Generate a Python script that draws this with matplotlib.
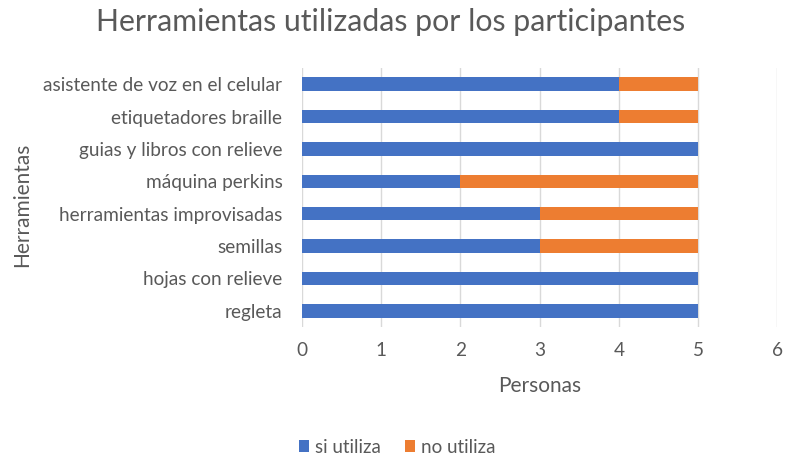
import matplotlib
matplotlib.use("Agg")
import matplotlib.pyplot as plt
import numpy as np

plt.rcParams['font.family'] = ['Lato', 'DejaVu Sans']

categories = ["regleta", "hojas con relieve", "semillas", "herramientas improvisadas",
              "máquina perkins", "guias y libros con relieve", "etiquetadores braille",
              "asistente de voz en el celular"]
si_utiliza = [5, 5, 3, 3, 2, 5, 4, 4]
no_utiliza = [0, 0, 2, 2, 3, 0, 1, 1]
x_ticks = [0, 1, 2, 3, 4, 5, 6]

blue = "#4472C4"
orange = "#ED7D31"
text_col = "#595959"

fig = plt.figure(figsize=(7.86, 4.61), dpi=100)
ax = fig.add_axes([0.384, 0.2907, 0.605, 0.5618])

y = np.arange(len(categories))
ax.barh(y, si_utiliza, height=0.42, color=blue, label="si utiliza", zorder=3)
ax.barh(y, no_utiliza, left=si_utiliza, height=0.42, color=orange, label="no utiliza", zorder=3)

ax.set_xlim(0, 6)
ax.set_ylim(-0.5, len(categories) - 0.5)
ax.set_xticks(x_ticks)
ax.set_yticks(y)
ax.set_yticklabels(categories)
ax.grid(axis="x", color="#D9D9D9", linewidth=1, zorder=0)
for s in ax.spines.values():
    s.set_visible(False)
ax.tick_params(axis="both", length=0, labelsize=13.7, colors=text_col)
ax.tick_params(axis="y", pad=14)
ax.tick_params(axis="x", pad=11)

ax.set_xlabel("Personas", fontsize=15, color=text_col, labelpad=12)
fig.text(0.028, 0.555, "Herramientas", rotation=90, fontsize=15, color=text_col,
         ha="center", va="center")
fig.text(0.497, 0.952, "Herramientas utilizadas por los participantes", fontsize=21.8,
         color=text_col, ha="center", va="center")

handles, labels = ax.get_legend_handles_labels()
fig.legend(handles, labels, loc="center", bbox_to_anchor=(0.505, 0.03), ncol=2,
           frameon=False, fontsize=13.5, handlelength=0.55, handleheight=0.55,
           handletextpad=0.3, columnspacing=1.3, labelcolor=text_col)

fig.savefig("out.png", dpi=100)
